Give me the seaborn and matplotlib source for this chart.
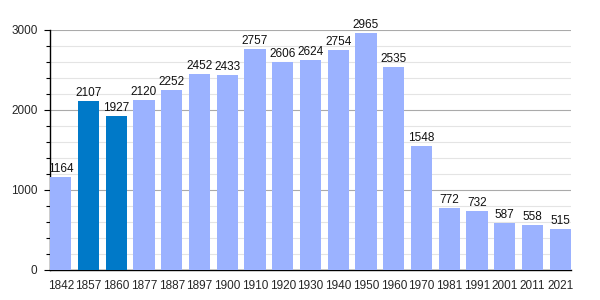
import matplotlib
matplotlib.use("Agg")
import matplotlib.pyplot as plt
import seaborn as sns
import pandas as pd
from matplotlib.ticker import MultipleLocator

years = ["1842", "1857", "1860", "1877", "1887", "1897", "1900", "1910", "1920", "1930",
         "1940", "1950", "1960", "1970", "1981", "1991", "2001", "2011", "2021"]
population = [1164, 2107, 1927, 2120, 2252, 2452, 2433, 2757, 2606, 2624,
              2754, 2965, 2535, 1548, 772, 732, 587, 558, 515]
highlight = ["no", "yes", "yes"] + ["no"] * 16

df = pd.DataFrame({"year": years, "pop": population, "hl": highlight})

sns.set_theme(style="white")
plt.rcParams["font.family"] = ["Liberation Sans", "DejaVu Sans"]

fig = plt.figure(figsize=(6, 3), dpi=100)
ax = fig.add_axes([50/600, 30/300, 521/600, 240/300])

bw = 0.77
sns.barplot(data=df, x="year", y="pop", hue="hl", dodge=False,
            palette={"no": "#9bb2ff", "yes": "#0079c8"}, width=bw,
            legend=False, ax=ax, saturation=1, zorder=3, linewidth=0, edgecolor="none")

for i, v in enumerate(population):
    ax.text(i, v + 25, str(v), ha="center", va="bottom", fontsize=8.5, color="#111111", zorder=4)

ax.set_xlim(-bw/2, len(years) - 1 + bw/2)
ax.set_ylim(0, 3000)
ax.yaxis.set_major_locator(MultipleLocator(1000))
ax.yaxis.set_minor_locator(MultipleLocator(200))
ax.grid(axis="y", which="major", color="#aaaaaa", linewidth=0.8, zorder=0)
ax.grid(axis="y", which="minor", color="#e4e4e4", linewidth=0.8, zorder=0)
ax.set_axisbelow(True)

for s in ["top", "right"]:
    ax.spines[s].set_visible(False)
ax.spines["left"].set_color("black")
ax.spines["bottom"].set_color("black")
ax.spines["left"].set_linewidth(1)
ax.spines["bottom"].set_linewidth(1)

ax.tick_params(axis="y", which="both", left=True, length=4, width=0.8, color="black",
               labelsize=8.5, pad=5)
ax.tick_params(axis="y", which="minor", length=3)
ax.tick_params(axis="x", bottom=False, labelsize=8.5, pad=1)
ax.set_xlabel("")
ax.set_ylabel("")

fig.savefig("out.png", dpi=100)
